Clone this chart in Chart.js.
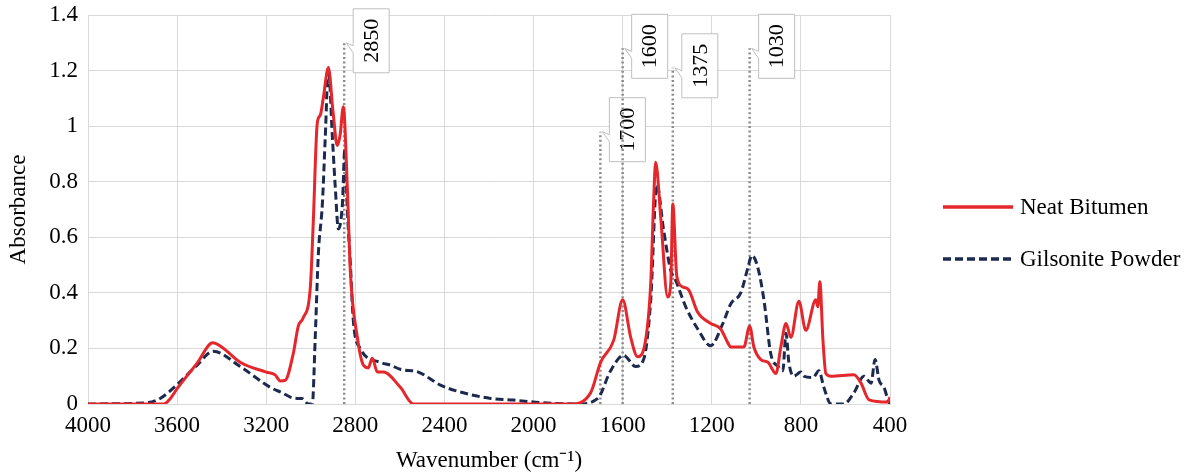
<!DOCTYPE html>
<html>
<head>
<meta charset="utf-8">
<title>FTIR spectra</title>
<script src="https://cdn.jsdelivr.net/npm/chart.js@4.4.1/dist/chart.umd.min.js"></script>
<style>
  html, body { margin: 0; padding: 0; background: #fff; }
  #wrap { width: 1190px; height: 475px; }
</style>
</head>
<body>
<div id="wrap"><canvas id="myChart" width="1190" height="475"></canvas></div>
<script>
//! DATA

// Neat Bitumen spectrum (wavenumber, absorbance)
const bitumenWn = [4000, 3660, 3630, 3600, 3510, 3440, 3400, 3317, 3200, 3160, 3137, 3115, 3079, 3056, 3034, 3002, 2989, 2971, 2957, 2944, 2921, 2900, 2881, 2868, 2854, 2836, 2822, 2791, 2764, 2742, 2724, 2701, 2674, 2598, 2539, 1834, 1744, 1699, 1640, 1600, 1564, 1533, 1497, 1474, 1461, 1452, 1429, 1398, 1384, 1375, 1357, 1326, 1303, 1263, 1205, 1160, 1128, 1115, 1056, 1030, 1011, 980, 948, 912, 890, 867, 845, 809, 778, 733, 724, 715, 701, 688, 665, 562, 530, 494, 409, 400];
const bitumenAbs = [0, 0, 0.02, 0.055, 0.147, 0.22, 0.205, 0.15, 0.115, 0.105, 0.083, 0.085, 0.18, 0.28, 0.31, 0.42, 0.65, 1.01, 1.04, 1.1, 1.21, 1.05, 0.93, 0.97, 1.07, 0.78, 0.47, 0.24, 0.14, 0.13, 0.165, 0.115, 0.115, 0.06, 0, 0, 0.04, 0.15, 0.23, 0.375, 0.24, 0.17, 0.23, 0.435, 0.73, 0.87, 0.67, 0.385, 0.435, 0.72, 0.46, 0.42, 0.41, 0.33, 0.29, 0.27, 0.22, 0.205, 0.205, 0.28, 0.205, 0.16, 0.15, 0.11, 0.205, 0.29, 0.24, 0.37, 0.265, 0.375, 0.35, 0.44, 0.23, 0.11, 0.1, 0.105, 0.075, 0.015, 0.007, 0.025];

// Gilsonite Powder spectrum (wavenumber, absorbance)
const gilsoniteWn = [4000, 3730, 3676, 3600, 3510, 3438, 3317, 3182, 3128, 3092, 3061, 3040, 3010, 2993, 2980, 2966, 2948, 2935, 2921, 2903, 2890, 2876, 2858, 2847, 2836, 2822, 2809, 2778, 2688, 2643, 2598, 2517, 2418, 2328, 2193, 2090, 1969, 1802, 1712, 1654, 1596, 1542, 1506, 1474, 1447, 1416, 1384, 1362, 1317, 1263, 1205, 1150, 1115, 1070, 1038, 1020, 993, 966, 935, 903, 881, 867, 854, 832, 800, 787, 746, 719, 697, 665, 607, 562, 517, 485, 467, 449, 427, 409, 400];
const gilsoniteAbs = [0, 0.005, 0.02, 0.07, 0.14, 0.19, 0.135, 0.06, 0.04, 0.025, 0.02, 0.02, 0, 0, 0.24, 0.54, 0.72, 0.96, 1.21, 0.96, 0.78, 0.63, 0.72, 0.92, 0.7, 0.5, 0.3, 0.2, 0.15, 0.14, 0.125, 0.115, 0.068, 0.043, 0.02, 0.014, 0.005, 0, 0.02, 0.12, 0.175, 0.135, 0.16, 0.375, 0.79, 0.625, 0.48, 0.445, 0.35, 0.27, 0.21, 0.29, 0.36, 0.4, 0.49, 0.535, 0.49, 0.375, 0.18, 0.135, 0.12, 0.255, 0.15, 0.1, 0.115, 0.1, 0.095, 0.12, 0.06, 0, 0, 0.04, 0.1, 0.075, 0.16, 0.085, 0.06, 0.015, 0];

// marked peaks: wavenumber, height of the dotted line, label
const peakWn = [2850, 1700, 1600, 1375, 1030];
const peakTop = [1.3, 0.98, 1.28, 1.21, 1.28];
const peakLabels = ["2850", "1700", "1600", "1375", "1030"];

const seriesNames = ["Neat Bitumen", "Gilsonite Powder"];

//! STYLE

const serif = "'Liberation Serif', 'Times New Roman', serif";
const red = "#e5262b";
const navy = "#1d2a4f";
const gridColor = "#d9d9d9";

//! HELPERS

const toPoints = (xs, ys) => xs.map((x, i) => ({ x: x, y: ys[i] }));

// dotted peak markers with rotated callout labels
const peakMarkers = {
  id: "peakMarkers",
  beforeDatasetsDraw(chart) {
    const ctx = chart.ctx;
    const xs = chart.scales.x;
    const ys = chart.scales.y;
    const boxW = 36;
    const boxH = 64;

    peakWn.forEach((wn, i) => {
      const px = xs.getPixelForValue(wn);
      const top = ys.getPixelForValue(peakTop[i]);
      const base = ys.getPixelForValue(0);

      // dotted line
      ctx.save();
      ctx.strokeStyle = "#8c8c8c";
      ctx.lineWidth = 2.5;
      ctx.setLineDash([2, 2.6]);
      ctx.beginPath();
      ctx.moveTo(px, base);
      ctx.lineTo(px, top);
      ctx.stroke();
      ctx.restore();

      // callout box
      const x0 = px + 9;
      const y0 = top - boxH / 2 - 2;
      ctx.save();
      ctx.fillStyle = "#fff";
      ctx.strokeStyle = "#bfbfbf";
      ctx.lineWidth = 1;
      ctx.beginPath();
      ctx.moveTo(x0, y0);
      ctx.lineTo(x0 + boxW, y0);
      ctx.lineTo(x0 + boxW, y0 + boxH);
      ctx.lineTo(x0, y0 + boxH);
      ctx.lineTo(x0, top + 10);
      ctx.lineTo(px + 2, top);
      ctx.lineTo(x0, top + 3);
      ctx.closePath();
      ctx.fill();
      ctx.stroke();

      // rotated label
      ctx.translate(x0 + boxW / 2, y0 + boxH / 2);
      ctx.rotate(-Math.PI / 2);
      ctx.fillStyle = "#000";
      ctx.font = "22px " + serif;
      ctx.textAlign = "center";
      ctx.textBaseline = "middle";
      ctx.fillText(peakLabels[i], 0, 1);
      ctx.restore();
    });
  }
};

// legend to the right of the plot
const sideLegend = {
  id: "sideLegend",
  afterDraw(chart) {
    const ctx = chart.ctx;
    const rows = [207, 259];
    chart.data.datasets.forEach((ds, i) => {
      const y = rows[i];
      ctx.save();
      ctx.strokeStyle = ds.borderColor;
      ctx.lineWidth = ds.borderWidth + 0.5;
      ctx.setLineDash(ds.borderDash || []);
      ctx.beginPath();
      ctx.moveTo(943, y);
      ctx.lineTo(1013, y);
      ctx.stroke();
      ctx.setLineDash([]);
      ctx.fillStyle = "#000";
      ctx.font = "23px " + serif;
      ctx.textAlign = "left";
      ctx.textBaseline = "middle";
      ctx.fillText(ds.label, 1020, y + 1);
      ctx.restore();
    });
  }
};

//! CHART

const ctx = document.getElementById("myChart");

new Chart(ctx, {
  type: "line",
  data: {
    datasets: [
      {
        label: seriesNames[0],
        data: toPoints(bitumenWn, bitumenAbs),
        borderColor: red,
        borderWidth: 3,
        pointRadius: 0,
        cubicInterpolationMode: "monotone",
        fill: false
      },
      {
        label: seriesNames[1],
        data: toPoints(gilsoniteWn, gilsoniteAbs),
        borderColor: navy,
        borderWidth: 3,
        borderDash: [8, 4],
        pointRadius: 0,
        cubicInterpolationMode: "monotone",
        fill: false
      }
    ]
  },
  options: {
    responsive: false,
    animation: false,
    devicePixelRatio: 1,
    layout: { padding: { top: 15, right: 300, left: 0, bottom: 0 } },
    plugins: {
      legend: { display: false },
      tooltip: { enabled: false }
    },
    scales: {
      x: {
        type: "linear",
        reverse: true,
        min: 400,
        max: 4000,
        afterFit: scale => { scale.height = 71; },
        ticks: {
          stepSize: 400,
          padding: 8,
          color: "#000",
          font: { family: serif, size: 23 },
          maxRotation: 0,
          callback: v => String(v)
        },
        grid: { color: gridColor, drawTicks: false },
        border: { color: gridColor },
        title: {
          display: true,
          text: "Wavenumber (cm\u207B\u00B9)",
          color: "#000",
          font: { family: serif, size: 23 },
          padding: { top: 0, bottom: 0 }
        }
      },
      y: {
        min: 0,
        max: 1.4,
        afterFit: scale => {
          scale.width = 88;
          scale.paddingTop = 0;
          scale.paddingBottom = 0;
        },
        ticks: {
          stepSize: 0.2,
          padding: 10,
          color: "#000",
          font: { family: serif, size: 23 },
          callback: v => String(+v.toFixed(1))
        },
        grid: { color: gridColor, drawTicks: false },
        border: { color: gridColor },
        title: {
          display: true,
          text: "Absorbance",
          color: "#000",
          font: { family: serif, size: 23 },
          padding: { top: 5, bottom: 0 }
        }
      }
    }
  },
  plugins: [peakMarkers, sideLegend]
});
</script>
</body>
</html>
